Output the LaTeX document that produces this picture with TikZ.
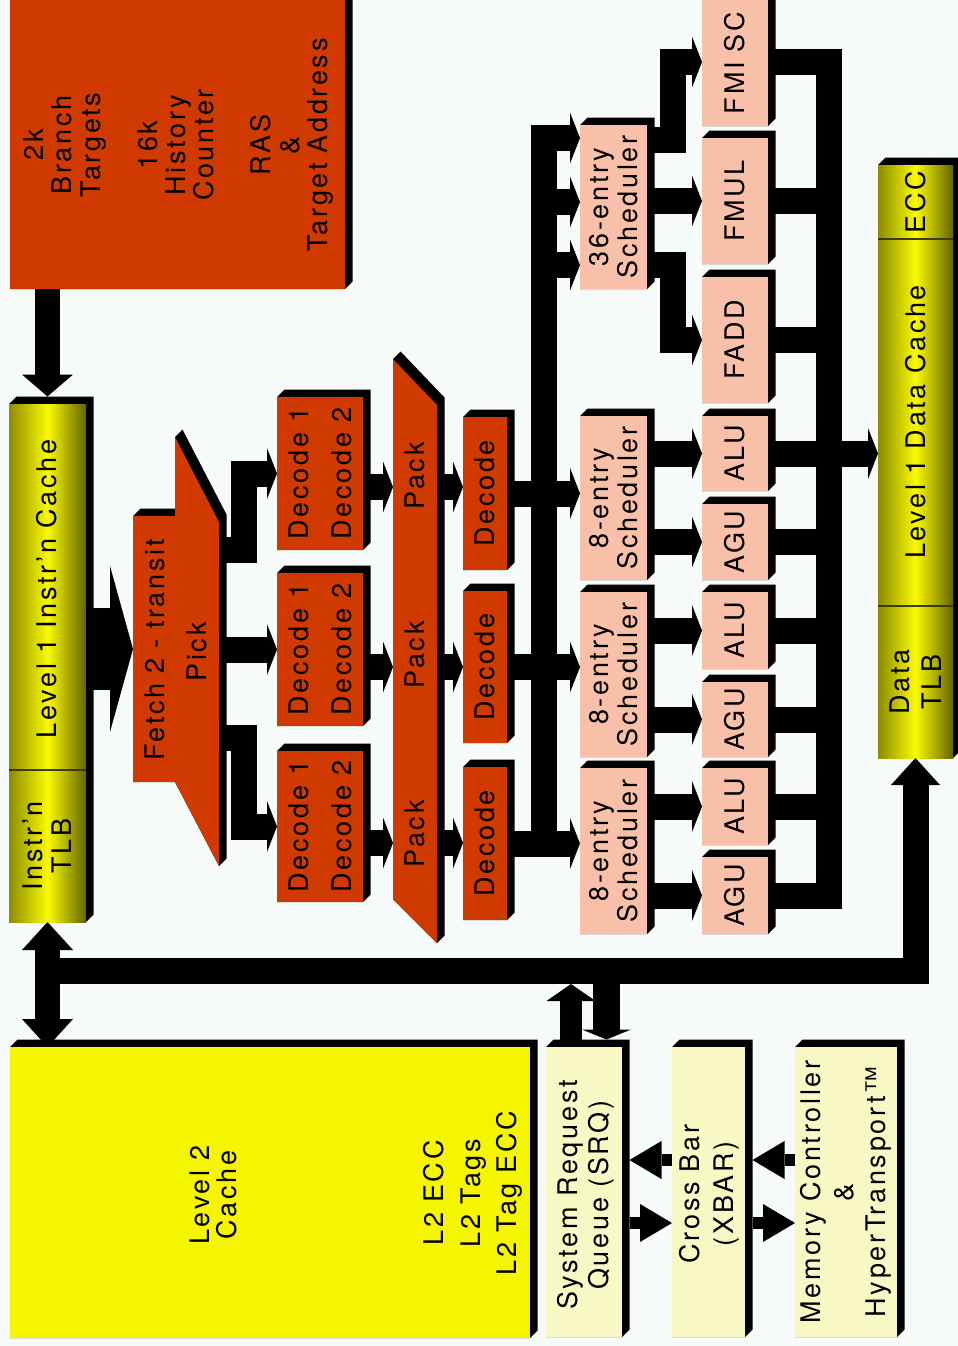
\documentclass[tikz,border=0pt]{standalone}
\usepackage{fontspec}
\setmainfont[LetterSpace=10]{TeX Gyre Heros}
\usetikzlibrary{arrows.meta,fit}
\pgfdeclarelayer{back}
\pgfdeclarelayer{shade}
\pgfsetlayers{back,shade,main}

\definecolor{paper}{RGB}{246,250,248}
\definecolor{rust}{RGB}{208,58,0}
\definecolor{salmon}{RGB}{248,192,168}
\definecolor{lemon}{RGB}{245,245,0}
\definecolor{cream}{RGB}{248,248,196}
\definecolor{oliveL}{RGB}{140,140,0}
\definecolor{oliveR}{RGB}{100,100,0}
\definecolor{bright}{RGB}{250,250,0}
\definecolor{rulec}{RGB}{60,60,0}

% block given by two opposite corners (pixel units)
\newcommand\blk[6]{\node[#2, fit={(#3,#4)(#5,#6)}] (#1) {};}

\tikzset{
  box/.style={inner sep=0pt, outer sep=0pt},
  rustbox/.style={box, fill=rust},
  unitbox/.style={box, fill=salmon},
  qbox/.style={box, fill=cream},
  l2box/.style={box, fill=lemon},
  cachebar/.style={box, left color=oliveL, right color=oliveR, middle color=bright},
  lbl/.style={rotate=90, align=center, inner sep=0pt, font=\fontsize{13.5}{14.2}\selectfont},
  bar/.style={line width=13pt, line join=miter, line cap=butt},
  Hs/.tip={Triangle[width=25.5pt,length=5pt,line width=0pt]},
  Hb/.tip={Triangle[width=25.5pt,length=11pt,line width=0pt]},
  Hd/.tip={Triangle[width=25.5pt,length=14pt,line width=0pt]},
  Hv/.tip={Triangle[width=24.5pt,length=13.5pt,line width=0pt]},
  Hbig/.tip={Triangle[width=83pt,length=11.5pt,line width=0pt]},
  Hup/.tip={Triangle[width=24.5pt,length=8.5pt,line width=0pt]},
  Hdn/.tip={Triangle[width=24.5pt,length=5pt,line width=0pt]},
  Hx/.tip={Triangle[width=19pt,length=16pt,line width=0pt]},
}

\begin{document}
\begin{tikzpicture}[x=0.5pt, y=-0.5pt]
\useasboundingbox (0,0) rectangle (958,1346);
\begin{pgfonlayer}{back}
  \fill[paper] (0,0) rectangle (958,1346);
\end{pgfonlayer}

% ---------- blocks ----------
\blk{bpu}{rustbox}{10}{-30}{345}{289}
\blk{icache}{cachebar}{9}{404}{86}{922}
\blk{fetch}{rustbox}{133}{516}{175}{782}
\blk{dA}{rustbox}{277}{397}{363}{550}
\blk{dB}{rustbox}{277}{573}{363}{726}
\blk{dC}{rustbox}{277}{751}{363}{902}
\blk{eA}{rustbox}{463}{417}{507}{570}
\blk{eB}{rustbox}{463}{591}{507}{743}
\blk{eC}{rustbox}{463}{767}{507}{920}
\blk{s36}{unitbox}{580}{125}{647}{289}
\blk{sA}{unitbox}{580}{416}{647}{580}
\blk{sB}{unitbox}{580}{592}{647}{757}
\blk{sC}{unitbox}{580}{768}{647}{934}
\blk{fmisc}{unitbox}{702}{-30}{768}{126}
\blk{fmul}{unitbox}{702}{138}{768}{264}
\blk{fadd}{unitbox}{702}{277}{768}{403}
\blk{aluA}{unitbox}{702}{416}{768}{491}
\blk{aguA}{unitbox}{702}{504}{768}{580}
\blk{aluB}{unitbox}{702}{592}{768}{669}
\blk{aguB}{unitbox}{702}{682}{768}{757}
\blk{aluC}{unitbox}{702}{768}{768}{845}
\blk{aguC}{unitbox}{702}{857}{768}{934}
\blk{dcache}{cachebar}{878}{165}{953}{758}
\blk{l2}{l2box}{10}{1047}{530}{1338}
\blk{srq}{qbox}{546}{1047}{622}{1337}
\blk{xbar}{qbox}{672}{1047}{745}{1337}
\blk{mem}{qbox}{795}{1047}{897}{1337}

% Pick and Pack stages (parallelograms)
\fill[rust] (175,437) -- (219,522) -- (219,866) -- (175,782) -- cycle;
\fill[rust] (393,359) -- (437,405) -- (437,943) -- (393,899) -- cycle;
\coordinate (pick-e) at (219,650);
\coordinate (pack-w) at (393,650);
\coordinate (pack-e) at (437,650);
\coordinate (bus) at (544,500);
\coordinate (rb) at (829,500);
\coordinate (busbot) at (0,984);

% ---------- 3D extrusions ----------
\begin{pgfonlayer}{shade}
  \foreach \n in {bpu,icache,fetch,dA,dB,dC,eA,eB,eC,s36,sA,sB,sC,fmisc,fmul,fadd,
                  aluA,aguA,aluB,aguB,aluC,aguC,dcache,l2,srq,xbar,mem}{
    \fill[black] (\n.north west) -- ++(3.75pt,3.75pt)
      -- ([shift={(3.75pt,3.75pt)}]\n.north east)
      -- ([shift={(3.75pt,3.75pt)}]\n.south east)
      -- (\n.south east) -- (\n.south west) -- cycle;
  }
  \fill[black] (175,437) -- (182.5,429.5) -- (226.5,514.5) -- (226.5,858.5)
               -- (219,866) -- (175,782) -- cycle;
  \fill[black] (393,359) -- (400.5,351.5) -- (444.5,397.5) -- (444.5,935.5)
               -- (437,943) -- (393,899) -- cycle;
\end{pgfonlayer}

% cache dividers
\draw[rulec, line width=0.6pt] (icache.west |- 0,770) -- (icache.east |- 0,770);
\draw[rulec, line width=0.6pt] (dcache.west |- 0,239) -- (dcache.east |- 0,239);
\draw[rulec, line width=0.6pt] (dcache.west |- 0,606) -- (dcache.east |- 0,606);

% ---------- labels ----------
\node[lbl] (bpu-t) at (178.5,145) {2k\\Branch\\Targets\\[14.2pt]16k\\History\\Counter\\[14.2pt]RAS\\\&\\Target Address};
\node[lbl] (icache-t) at (47,589) {Level 1 Instr'n Cache};
\node[lbl] (itlb-t) at (47,846) {Instr'n\\[0.3pt]TLB};
\node[lbl] (fetch-t) at (155,650) {Fetch 2 - transit};
\node[lbl] (pick-t) at (197,652) {Pick};
\foreach \n in {dA,dB,dC} \node[lbl] (\n-t) at (\n) {Decode 1\\[7.3pt]Decode 2};
\node[lbl] (packA-t) at (415,476) {Pack};
\node[lbl] (packB-t) at (415,655) {Pack};
\node[lbl] (packC-t) at (415,834) {Pack};
\foreach \n in {eA,eB,eC} \node[lbl] (\n-t) at (\n) {Decode};
\node[lbl] (s36-t) at (s36) {36-entry\\Scheduler};
\foreach \n in {sA,sB,sC} \node[lbl] (\n-t) at (\n) {8-entry\\Scheduler};
\node[lbl] (fmisc-t) at (735,63) {FMI SC};
\node[lbl] (fmul-t) at (fmul) {FMUL};
\node[lbl] (fadd-t) at (fadd) {FADD};
\foreach \n in {aluA,aluB,aluC} \node[lbl] (\n-t) at (\n) {ALU};
\foreach \n in {aguA,aguB,aguC} \node[lbl] (\n-t) at (\n) {AGU};
\node[lbl] (ecc-t) at (916,202) {ECC};
\node[lbl] (dcache-t) at (916,422) {Level 1 Data Cache};
\node[lbl] (dtlb-t) at (916,682) {Data\\[1.8pt]TLB};
\node[lbl] (l2-t) at (213,1195) {Level 2\\[-0.7pt]Cache};
\node[lbl] (l2ecc-t) at (473,1193) {L2 ECC\\[4pt]L2 Tags\\[4pt]L2 Tag ECC};
\node[lbl] (srq-t) at (586,1195) {System  Request\\[1.3pt]Queue (SRQ)};
\node[lbl] (xbar-t) at (709,1194) {Cross Bar\\[2.8pt](XBAR)};
\node[lbl] (mem-t) at (846,1192) {Memory Controller\\[2pt]\&\\[2pt]HyperTransport™};

% ---------- connectors ----------
% branch prediction into the instruction cache
\draw[bar, line width=12.5pt, -{Hb}] (bpu.south -| icache.north) -- ([yshift=3.75pt]icache.north);
% instruction cache to fetch
\draw[line width=41pt, -{Hbig}] (icache.east |- fetch.west) -- (fetch.west);
% pick to the three decode lanes
\draw[bar, -{Hs}] (pick-e |- 0,550) -- (244,550) |- (dA.west);
\draw[bar, -{Hs}] (pick-e |- dB.west) -- (dB.west);
\draw[bar, -{Hs}] (pick-e |- 0,738) -- (244,738) |- (dC.west);
% decode to pack, pack to decode
\foreach \n/\y in {dA/487,dB/667,dC/843}
  \draw[bar, -{Hs}] (\n.east |- 0,\y) -- (pack-w |- 0,\y);
\foreach \n/\y in {eA/487,eB/667,eC/843}
  \draw[bar, -{Hs}] (pack-e |- 0,\y) -- (\n.west |- 0,\y);
% decode to integer schedulers
\foreach \a/\b in {eA/sA,eB/sB,eC/sC}
  \draw[bar, -{Hs}] (\a.east) -- (\a.east -| \b.west);
% dispatch bus up to the FP scheduler
\draw[bar, -{Hs}] (eC.east -| bus) -- (bus |- 0,138) -- (s36.west |- 0,138);
\foreach \y in {202,265}
  \draw[bar, -{Hs}] (bus |- 0,\y) -- (s36.west |- 0,\y);
% FP scheduler to FP units
\draw[bar, -{Hs}] (s36.east |- 0,140) -- (673,140) |- (fmisc.west |- 0,62);
\draw[bar, -{Hs}] (s36.east |- fmul.west) -- (fmul.west);
\draw[bar, -{Hs}] (s36.east |- 0,265) -- (673,265) |- (fadd.west);
% integer schedulers to ALU / AGU
\foreach \s/\u in {sA/aluA,sA/aguA,sB/aluB,sB/aguB,sC/aluC,sC/aguC}
  \draw[bar, -{Hs}] (\s.east |- \u.west) -- (\u.west);
% result bus
\draw[bar] (fmisc.east |- 0,62) -| (rb |- aguC.east) -- (aguC.east);
\foreach \u in {fmul,fadd,aluA,aguA,aluB,aguB,aluC}
  \draw[bar] (\u.east) -- (\u.east -| rb);
\draw[bar, -{Hs}] (rb |- aluA.east) -- (dcache.west |- aluA.east);
% system bus: instruction TLB, L2 and data TLB
\draw[bar, line width=12.5pt, {Hd}-{Hd}] (icache.south) -- (icache.south |- l2.north);
\draw[bar, -{Hv}] (icache.south |- 0,971) -| (dcache.south);
% system request queue
\coordinate (srq-up) at ([xshift=-6.5pt]srq.north);
\coordinate (srq-dn) at ([xshift=11.25pt,yshift=3.75pt]srq.north);
\draw[line width=11pt, -{Hup}] (srq-up) -- (srq-up |- busbot);
\draw[line width=13.5pt, -{Hdn}] (srq-dn |- busbot) -- (srq-dn);
% crossbar links
\coordinate (srq-r) at ([xshift=3.75pt]srq.east);
\coordinate (xbar-r) at ([xshift=3.75pt]xbar.east);
\draw[line width=6pt, -{Hx}] (xbar.west |- 0,1160) -- (srq-r |- 0,1160);
\draw[line width=6pt, -{Hx}] (srq-r |- 0,1223) -- (xbar.west |- 0,1223);
\draw[line width=6pt, -{Hx}] (mem.west |- 0,1160) -- (xbar-r |- 0,1160);
\draw[line width=6pt, -{Hx}] (xbar-r |- 0,1223) -- (mem.west |- 0,1223);
\end{tikzpicture}
\end{document}
